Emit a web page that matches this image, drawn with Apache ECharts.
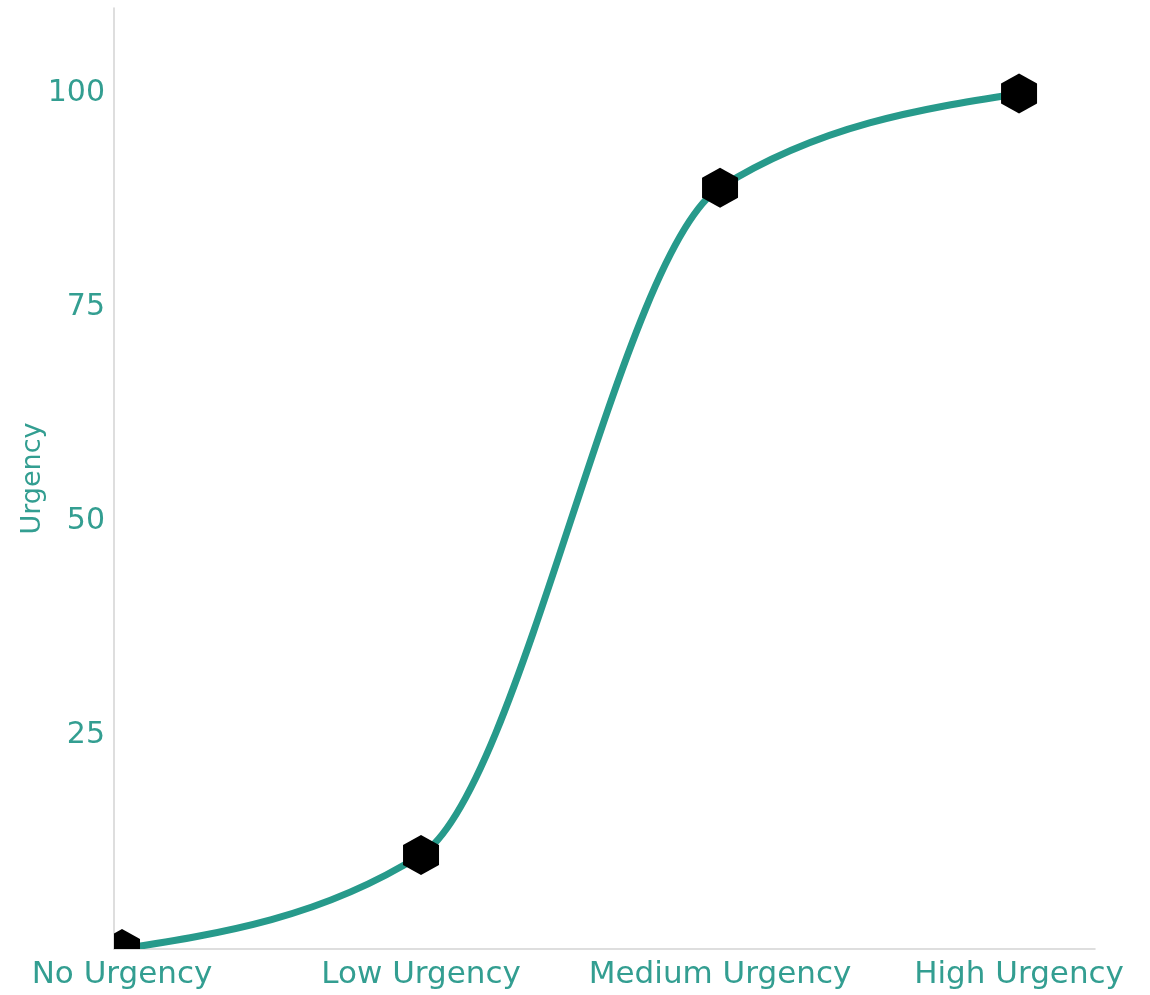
<!DOCTYPE html>
<html>
<head>
<meta charset="utf-8">
<title>Urgency</title>
<script src="https://cdn.jsdelivr.net/npm/echarts@6/dist/echarts.min.js"></script>
<style>
  html, body { margin: 0; padding: 0; background: #ffffff; }
  #chart { width: 1150px; height: 995px; }
</style>
</head>
<body>
<div id="chart"></div>
<script>
// Urgency levels along the horizontal axis
const categories = ['No Urgency', 'Low Urgency', 'Medium Urgency', 'High Urgency'];
// Urgency score for each level
const urgencyValues = [0, 11, 89, 100];
// Tick values on the urgency axis
const yTicks = [25, 50, 75, 100];

const teal = '#279a8b';
const labelTeal = '#339e91';
const axisGrey = '#d3d3d3';

const points = categories.map((c, i) => [i, urgencyValues[i]]);

// Monotone cubic tangents (Fritsch–Carlson, as in a monotone-x curve)
function monotoneTangents(pts) {
  const n = pts.length;
  const secants = [];
  for (let i = 0; i < n - 1; i++) {
    secants.push((pts[i + 1][1] - pts[i][1]) / (pts[i + 1][0] - pts[i][0]));
  }
  const t = new Array(n);
  for (let i = 1; i < n - 1; i++) {
    const h0 = pts[i][0] - pts[i - 1][0];
    const h1 = pts[i + 1][0] - pts[i][0];
    const s0 = secants[i - 1], s1 = secants[i];
    const p = (s0 * h1 + s1 * h0) / (h0 + h1);
    t[i] = (Math.sign(s0) + Math.sign(s1)) *
      Math.min(Math.abs(s0), Math.abs(s1), 0.5 * Math.abs(p)) || 0;
  }
  t[0] = (3 * secants[0] - t[1]) / 2;
  t[n - 1] = (3 * secants[n - 2] - t[n - 2]) / 2;
  return t;
}
const tangents = monotoneTangents(points);

// One cubic segment from each point to the next, mapped through the axes
function renderSegment(params, api) {
  const i = params.dataIndex;
  if (i >= points.length - 1) return null;
  const [x0, y0] = points[i];
  const [x1, y1] = points[i + 1];
  const h = (x1 - x0) / 3;
  const p0 = api.coord([x0, y0]);
  const c0 = api.coord([x0 + h, y0 + tangents[i] * h]);
  const c1 = api.coord([x1 - h, y1 - tangents[i + 1] * h]);
  const p1 = api.coord([x1, y1]);
  return {
    type: 'bezierCurve',
    shape: {
      x1: p0[0], y1: p0[1], x2: p1[0], y2: p1[1],
      cpx1: c0[0], cpy1: c0[1], cpx2: c1[0], cpy2: c1[1]
    },
    style: { stroke: teal, lineWidth: 7, fill: null, lineCap: 'round' }
  };
}

// Pointy-top hexagon marker, clipped to the plot area like the line
function renderHexagon(params, api) {
  const c = api.coord([api.value(0), api.value(1)]);
  const rx = 18, ry = 20;
  const pts = [
    [c[0], c[1] - ry],
    [c[0] + rx, c[1] - ry / 2],
    [c[0] + rx, c[1] + ry / 2],
    [c[0], c[1] + ry],
    [c[0] - rx, c[1] + ry / 2],
    [c[0] - rx, c[1] - ry / 2]
  ];
  return { type: 'polygon', shape: { points: pts }, style: { fill: '#000000' } };
}

const chart = echarts.init(document.getElementById('chart'), null, { renderer: 'canvas' });

chart.setOption({
  animation: false,
  backgroundColor: '#ffffff',
  grid: { left: 114, right: 55, top: 8, bottom: 46, containLabel: false },
  xAxis: {
    type: 'value',
    min: -0.0268,
    max: 3.254,
    splitLine: { show: false },
    axisLine: { show: true, onZero: false, lineStyle: { color: axisGrey, width: 1.5 } },
    axisTick: { show: false },
    axisLabel: {
      customValues: categories.map((c, i) => i),
      formatter: v => categories[Math.round(v)],
      color: labelTeal,
      fontFamily: 'DejaVu Sans',
      fontSize: 31,
      margin: 10
    }
  },
  yAxis: {
    type: 'value',
    min: 0,
    max: 110,
    name: 'Urgency',
    nameLocation: 'middle',
    nameGap: 68,
    nameMoveOverlap: false,
    nameTextStyle: { color: labelTeal, fontFamily: 'DejaVu Sans', fontSize: 27 },
    splitLine: { show: false },
    axisLine: { show: true, onZero: false, lineStyle: { color: axisGrey, width: 1.5 } },
    axisTick: { show: false },
    axisLabel: {
      customValues: yTicks,
      color: labelTeal,
      fontFamily: 'DejaVu Sans',
      fontSize: 30,
      margin: 9
    }
  },
  series: [
    {
      type: 'custom',
      name: 'Urgency curve',
      data: points,
      clip: true,
      renderItem: renderSegment,
      z: 2
    },
    {
      type: 'custom',
      name: 'Urgency',
      data: points,
      clip: true,
      renderItem: renderHexagon,
      z: 3
    }
  ]
});
</script>
</body>
</html>
